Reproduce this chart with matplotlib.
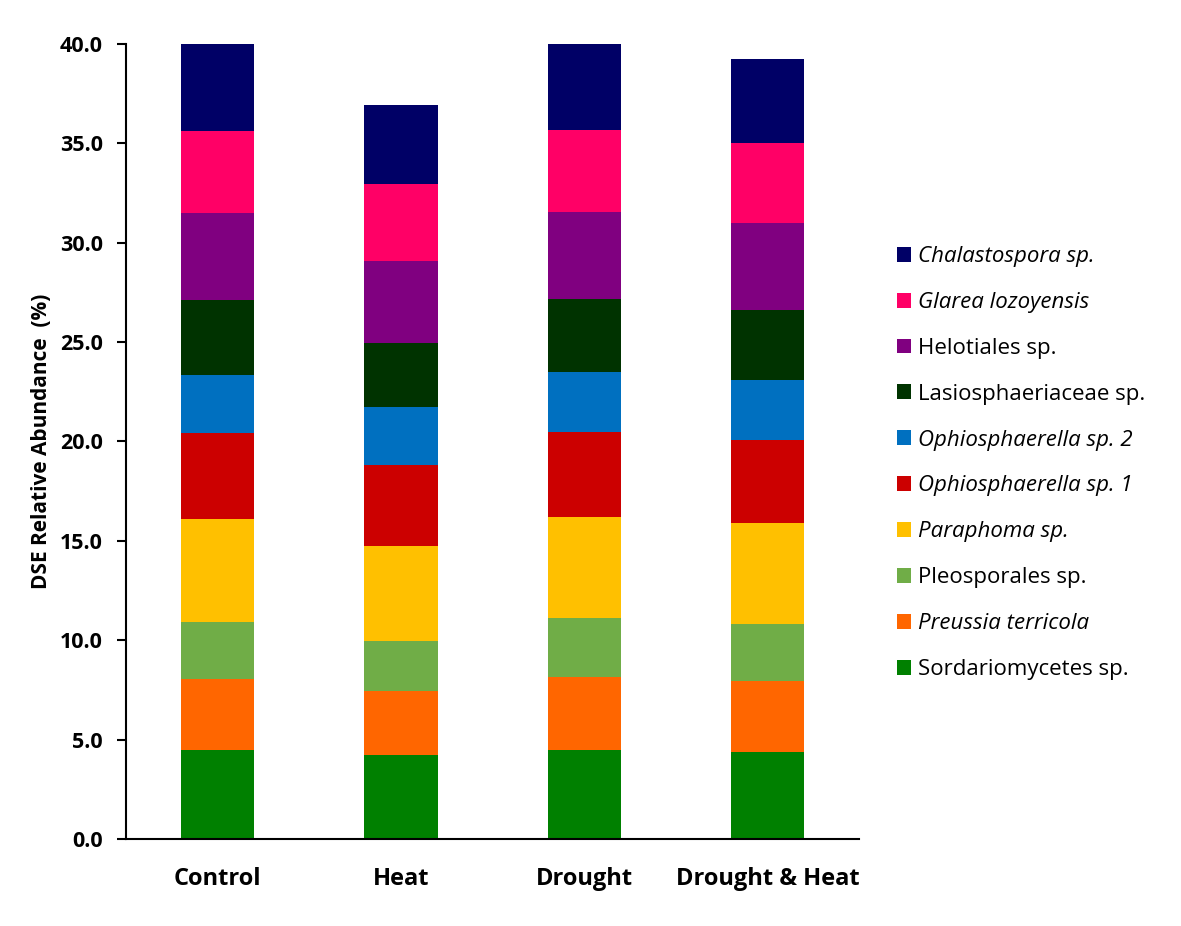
import numpy as np
import matplotlib.pyplot as plt

plt.rcParams['font.family'] = ['Open Sans', 'DejaVu Sans']

treatments = ["Control", "Heat", "Drought", "Drought & Heat"]

# stacked from bottom to top
species = ["Sordariomycetes sp.", "Preussia terricola", "Pleosporales sp.",
           "Paraphoma sp.", "Ophiosphaerella sp. 1", "Ophiosphaerella sp. 2",
           "Lasiosphaeriaceae sp.", "Helotiales sp.", "Glarea lozoyensis",
           "Chalastospora sp."]
italic = [False, True, False, True, True, True, False, False, True, True]
colors = ["#008000", "#FF6600", "#70AD47", "#FFC000", "#CC0000",
          "#0070C0", "#003300", "#800080", "#FF0066", "#000066"]

sordario = [4.48, 4.23, 4.48, 4.40]
preussia = [3.56, 3.20, 3.66, 3.57]
pleospor = [2.88, 2.52, 2.96, 2.85]
paraphoma = [5.16, 4.78, 5.08, 5.07]
ophio1 = [4.34, 4.10, 4.31, 4.20]
ophio2 = [2.94, 2.90, 3.03, 2.99]
lasio = [3.74, 3.24, 3.64, 3.56]
helot = [4.40, 4.13, 4.40, 4.36]
glarea = [4.12, 3.83, 4.12, 4.03]
chalasto = [4.38, 4.01, 4.31, 4.23]

values = [sordario, preussia, pleospor, paraphoma, ophio1, ophio2,
          lasio, helot, glarea, chalasto]

fig = plt.figure(figsize=(11.81, 9.26), dpi=100)
ax = fig.add_axes([0.1067, 0.094, 0.6207, 0.8585])

x = np.arange(len(treatments))
bottom = np.zeros(len(treatments))
handles = []
for name, vals, col in zip(species, values, colors):
    b = ax.bar(x, vals, width=0.40, bottom=bottom, color=col, label=name,
               clip_on=False)
    handles.append(b)
    bottom += np.array(vals)

ax.set_xlim(-0.5, 3.5)
ax.set_ylim(0, 40)
ax.set_yticks(np.arange(0, 40.1, 5))
ax.set_yticklabels([f"{v:.1f}" for v in np.arange(0, 40.1, 5)],
                   fontsize=15.5, fontweight='bold')
ax.set_xticks(x)
ax.set_xticklabels(treatments, fontsize=17, fontweight='bold')
ax.tick_params(axis='x', length=0, pad=20)
ax.tick_params(axis='y', length=6.5, width=1.5, pad=10, direction='out')
for s in ['top', 'right']:
    ax.spines[s].set_visible(False)
for s in ['left', 'bottom']:
    ax.spines[s].set_linewidth(1.5)

ax.set_ylabel("DSE Relative Abundance  (%)", fontsize=15,
              fontweight='bold', labelpad=6)

leg = fig.legend(handles[::-1], species[::-1], loc='center left',
                 bbox_to_anchor=(897 / 1181, 1 - 463 / 926),
                 frameon=False, fontsize=16, handlelength=0.65,
                 handleheight=0.65, handletextpad=0.3, labelspacing=1.12,
                 borderpad=0, borderaxespad=0)
for t, it in zip(leg.get_texts(), italic[::-1]):
    if it:
        t.set_fontstyle('italic')

fig.savefig("out.png", dpi=100)
